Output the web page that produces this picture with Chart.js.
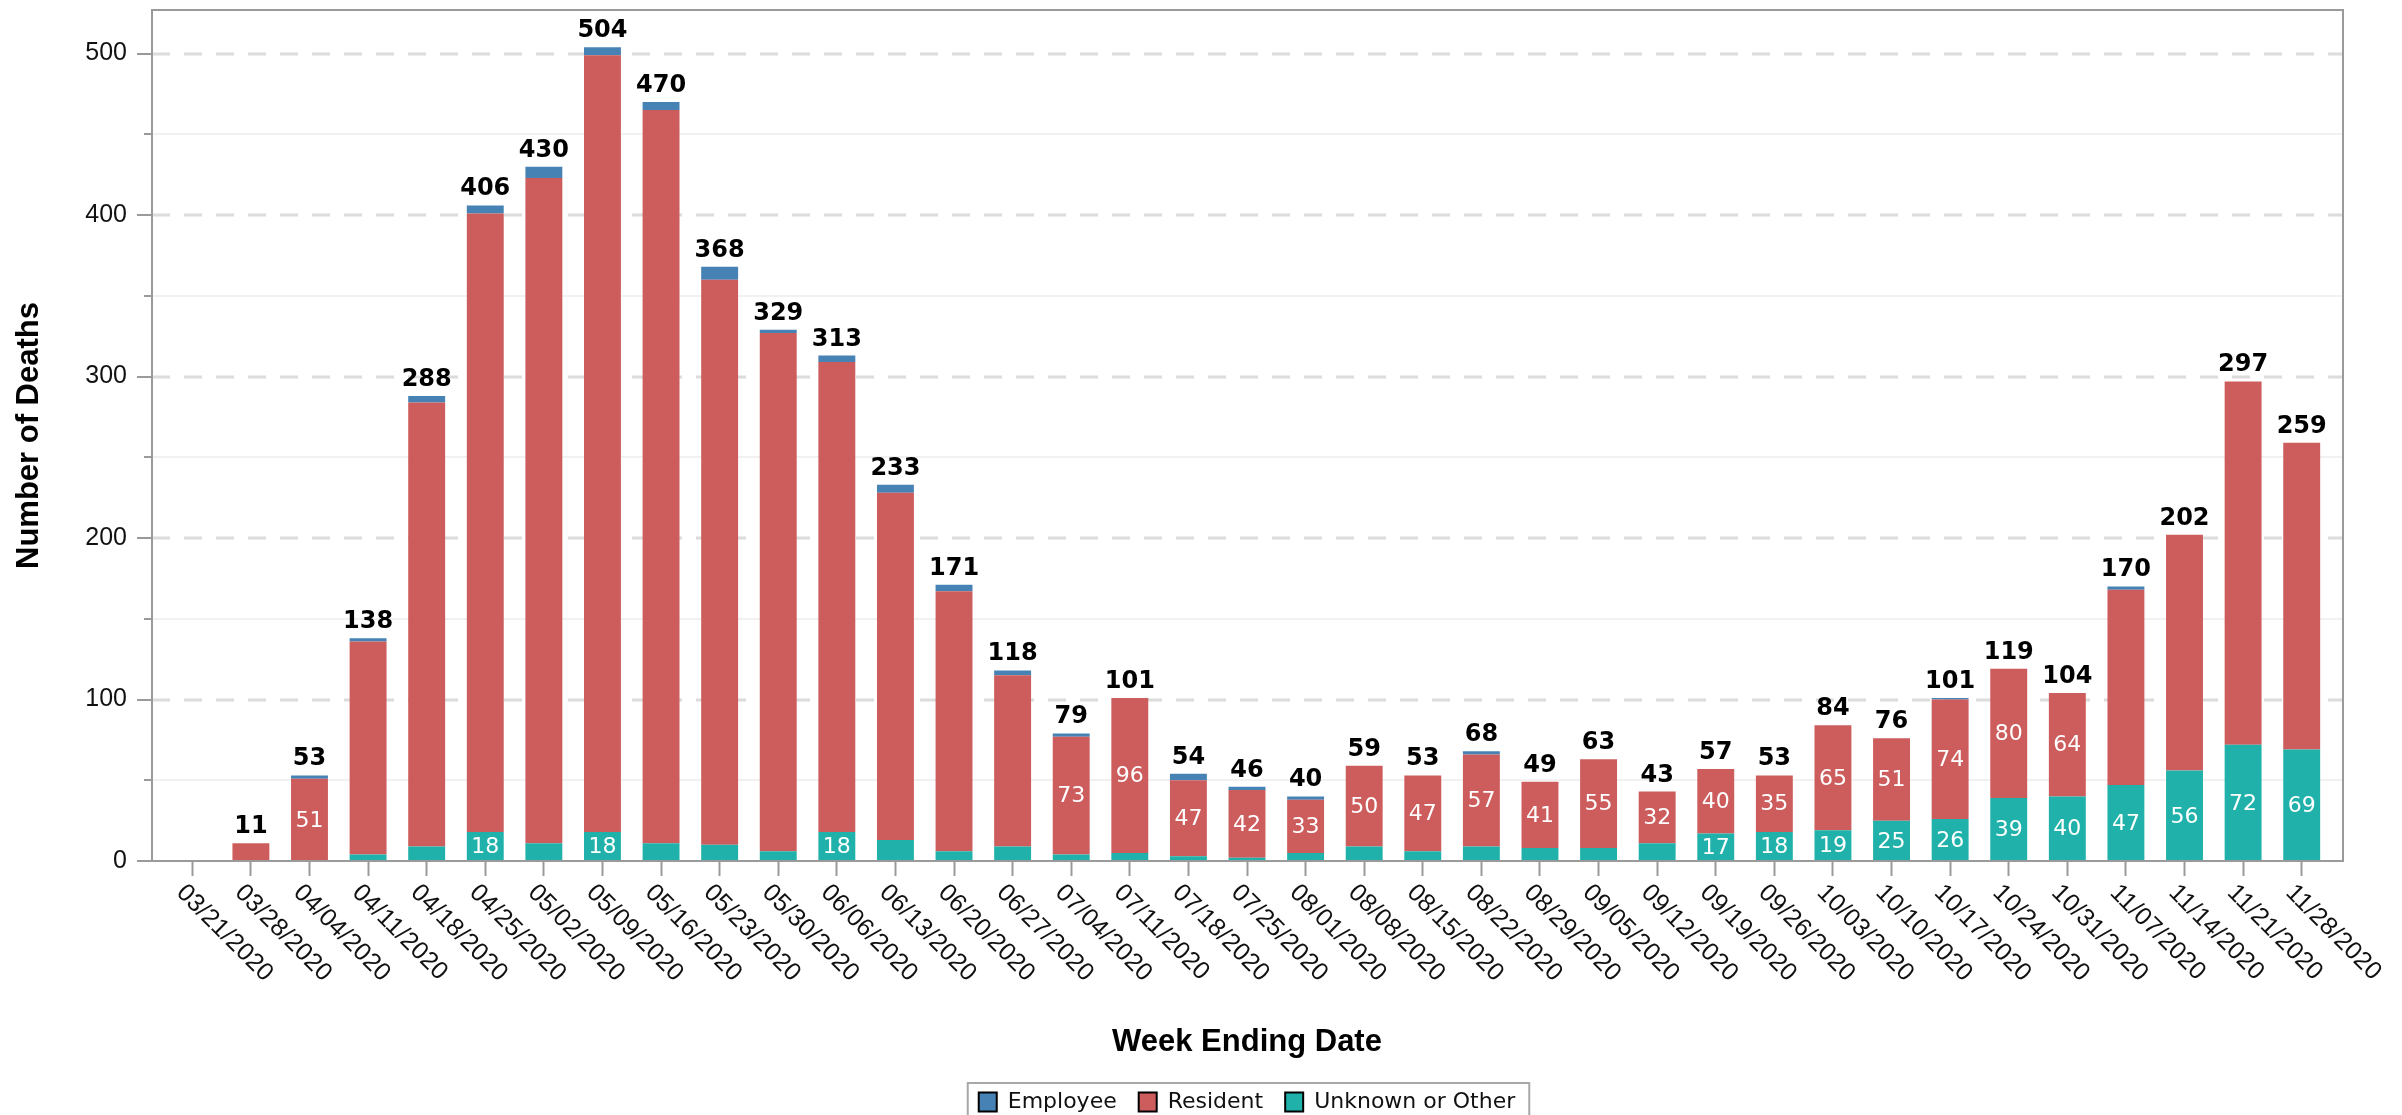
<!DOCTYPE html>
<html>
<head>
<meta charset="utf-8">
<title>Number of Deaths by Week Ending Date</title>
<script src="https://cdn.jsdelivr.net/npm/chart.js@4.4.1/dist/chart.umd.min.js"></script>
<style>
  html, body { margin: 0; padding: 0; background: #fff; }
  #deathsChart { display: block; }
</style>
</head>
<body>
<canvas id="deathsChart" width="2402" height="1115"></canvas>
<script>
const weeks = [
  "03/21/2020", "03/28/2020", "04/04/2020", "04/11/2020", "04/18/2020", "04/25/2020",
  "05/02/2020", "05/09/2020", "05/16/2020", "05/23/2020", "05/30/2020", "06/06/2020",
  "06/13/2020", "06/20/2020", "06/27/2020", "07/04/2020", "07/11/2020", "07/18/2020",
  "07/25/2020", "08/01/2020", "08/08/2020", "08/15/2020", "08/22/2020", "08/29/2020",
  "09/05/2020", "09/12/2020", "09/19/2020", "09/26/2020", "10/03/2020", "10/10/2020",
  "10/17/2020", "10/24/2020", "10/31/2020", "11/07/2020", "11/14/2020", "11/21/2020",
  "11/28/2020",
];

const employee = [0, 0, 2, 2, 4, 5, 7, 5, 5, 8, 2, 4, 5, 4, 3, 2, 0, 4, 2, 2, 0, 0, 2, 0, 0, 0, 0, 0, 0, 0, 1, 0, 0, 2, 0, 0, 0];
const resident = [0, 11, 51, 132, 275, 383, 412, 481, 454, 350, 321, 291, 215, 161, 106, 73, 96, 47, 42, 33, 50, 47, 57, 41, 55, 32, 40, 35, 65, 51, 74, 80, 64, 121, 146, 225, 190];
const unknown = [0, 0, 0, 4, 9, 18, 11, 18, 11, 10, 6, 18, 13, 6, 9, 4, 5, 3, 2, 5, 9, 6, 9, 8, 8, 11, 17, 18, 19, 25, 26, 39, 40, 47, 56, 72, 69];

const yMax = 527;
const yStep = 50;

const totals = weeks.map((_, i) => employee[i] + resident[i] + unknown[i]);

// frame sits a little outside the category band, like the original
const FRAME_L = 11;
const FRAME_R = 12;
const AXIS_GREY = "#9a9a9a";

const gridAndFrame = {
  id: "gridAndFrame",
  beforeDatasetsDraw(chart) {
    const { ctx, chartArea, scales: { y } } = chart;
    const left = chartArea.left - FRAME_L;
    const right = chartArea.right + FRAME_R;
    ctx.save();
    y.ticks.forEach(({ value }) => {
      const py = Math.round(y.getPixelForValue(value));
      const major = value % 100 === 0;
      if (value > 0) {
        ctx.beginPath();
        ctx.setLineDash(major ? [18, 14] : []);
        ctx.strokeStyle = major ? "#dcdcdc" : "#f1f1f1";
        ctx.lineWidth = major ? 3 : 2;
        ctx.moveTo(left, py);
        ctx.lineTo(right, py);
        ctx.stroke();
      }
      ctx.setLineDash([]);
      ctx.beginPath();
      ctx.strokeStyle = AXIS_GREY;
      ctx.lineWidth = 2;
      ctx.moveTo(left - (major ? 15 : 8), py);
      ctx.lineTo(left, py);
      ctx.stroke();
    });
    ctx.restore();
  },
  afterDatasetsDraw(chart) {
    const { ctx, chartArea } = chart;
    const left = chartArea.left - FRAME_L;
    const right = chartArea.right + FRAME_R;
    ctx.save();
    ctx.strokeStyle = AXIS_GREY;
    ctx.lineWidth = 2;
    ctx.strokeRect(left, chartArea.top, right - left, chartArea.bottom - chartArea.top);
    ctx.restore();
  },
};

const barLabels = {
  id: "barLabels",
  afterDatasetsDraw(chart) {
    const { ctx, scales: { x, y } } = chart;
    ctx.save();
    ctx.textAlign = "center";

    // values inside the segments
    ctx.font = "22px 'DejaVu Sans'";
    ctx.fillStyle = "#ffffff";
    ctx.textBaseline = "middle";
    chart.data.datasets.forEach((ds, d) => {
      if (ds.label === "Employee") return;
      chart.getDatasetMeta(d).data.forEach((bar, i) => {
        const v = ds.data[i];
        if (v >= 15 && v < 100) {
          ctx.fillText(String(v), bar.x, (bar.y + bar.base) / 2 + 1);
        }
      });
    });

    // totals above the stacks
    ctx.font = "bold 24px 'DejaVu Sans'";
    ctx.fillStyle = "#000000";
    ctx.textBaseline = "alphabetic";
    totals.forEach((t, i) => {
      if (!t) return;
      ctx.fillText(String(t), x.getPixelForValue(i), y.getPixelForValue(t) - 10);
    });
    ctx.restore();
  },
};

const slantedWeekLabels = {
  id: "slantedWeekLabels",
  afterDraw(chart) {
    const { ctx, chartArea, scales: { x } } = chart;
    ctx.save();
    ctx.font = "25px 'Liberation Sans'";
    ctx.fillStyle = "#111111";
    ctx.textAlign = "left";
    ctx.textBaseline = "middle";
    weeks.forEach((w, i) => {
      ctx.save();
      ctx.translate(x.getPixelForValue(i) - 12, chartArea.bottom + 28);
      ctx.rotate(Math.PI / 4);
      ctx.fillText(w, 0, 0);
      ctx.restore();
    });
    ctx.restore();
  },
};

const legendBox = {
  id: "legendBox",
  afterDraw(chart) {
    const boxes = chart.legend && chart.legend.legendHitBoxes;
    if (!boxes || !boxes.length) return;
    const last = boxes[boxes.length - 1];
    const l = boxes[0].left - 11;
    const r = last.left + last.width + 14;
    const t = boxes[0].top - 8;
    const { ctx } = chart;
    ctx.save();
    ctx.strokeStyle = "#a8a8a8";
    ctx.lineWidth = 2;
    ctx.strokeRect(l, t, r - l, chart.height + 10 - t);
    ctx.restore();
  },
};

const config = {
  type: "bar",
  data: {
    labels: weeks,
    datasets: [
      { label: "Unknown or Other", data: unknown, backgroundColor: "#20b2aa" },
      { label: "Resident", data: resident, backgroundColor: "#cd5c5c" },
      { label: "Employee", data: employee, backgroundColor: "#4682b4" },
    ],
  },
  options: {
    responsive: false,
    animation: false,
    devicePixelRatio: 1,
    layout: { padding: { left: 0, right: 71, top: 10, bottom: -8 } },
    datasets: {
      bar: { categoryPercentage: 1, barPercentage: 0.63, borderWidth: 0 },
    },
    plugins: {
      tooltip: { enabled: false },
      legend: {
        position: "bottom",
        fullSize: false,
        labels: {
          font: { family: "'DejaVu Sans'", size: 22 },
          color: "#111111",
          boxWidth: 18,
          boxHeight: 19,
          padding: 22,
          sort: (a, b) => b.datasetIndex - a.datasetIndex,
          generateLabels(chart) {
            const items = Chart.defaults.plugins.legend.labels.generateLabels(chart);
            return items.map((it) => ({ ...it, strokeStyle: "#000000", lineWidth: 2 }));
          },
        },
      },
    },
    scales: {
      x: {
        stacked: true,
        offset: true,
        ticks: { display: false },
        grid: {
          display: true,
          offset: false,
          drawOnChartArea: false,
          drawTicks: true,
          tickLength: 15,
          tickColor: AXIS_GREY,
          tickWidth: 2,
          color: AXIS_GREY,
        },
        border: { display: false },
        title: {
          display: true,
          text: "Week Ending Date",
          color: "#000000",
          font: { family: "'Liberation Sans'", size: 31, weight: "bold" },
          padding: { top: 0, bottom: 8 },
        },
        afterFit(scale) {
          scale.height = 208;
          scale.paddingLeft = 0;
          scale.paddingRight = 0;
        },
      },
      y: {
        stacked: true,
        min: 0,
        max: yMax,
        ticks: {
          stepSize: yStep,
          includeBounds: false,
          autoSkip: false,
          padding: 36,
          color: "#111111",
          font: { family: "'Liberation Sans'", size: 25 },
          callback: (v) => (v % 100 === 0 ? String(v) : ""),
        },
        grid: { display: false, drawTicks: false, tickLength: 0 },
        border: { display: false },
        title: {
          display: true,
          text: "Number of Deaths",
          color: "#000000",
          font: { family: "'Liberation Sans'", size: 31, weight: "bold" },
          padding: { top: 11, bottom: 0 },
        },
        afterFit(scale) {
          scale.width = 163;
          scale.paddingTop = 0;
          scale.paddingBottom = 0;
        },
      },
    },
  },
  plugins: [gridAndFrame, barLabels, slantedWeekLabels, legendBox],
};

new Chart(document.getElementById("deathsChart"), config);
</script>
</body>
</html>
